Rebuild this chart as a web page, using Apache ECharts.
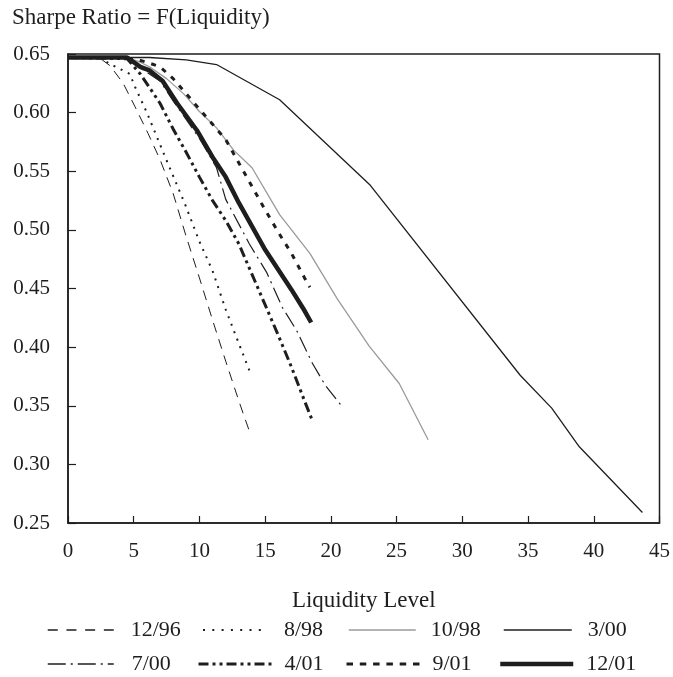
<!DOCTYPE html>
<html>
<head>
<meta charset="utf-8">
<script src="https://cdn.jsdelivr.net/npm/echarts@6/dist/echarts.min.js"></script>
<style>
  html, body { margin: 0; padding: 0; background: #fff; }
  #chart { width: 673px; height: 677px; }
</style>
</head>
<body>
<div id="chart"></div>
<script>
// Liquidity level (x) and Sharpe ratio (y) for each estimation date
const liq1296 = [0, 2, 2.6, 3.2, 4.2, 5.1, 6.1, 7, 8, 9, 10, 11, 12, 13, 13.9];
const sr1296  = [0.647, 0.647, 0.645, 0.640, 0.625, 0.605, 0.582, 0.560, 0.531, 0.494, 0.459, 0.423, 0.388, 0.354, 0.325];

const liq0898 = [0, 2.5, 3.1, 4, 4.7, 5.1, 6, 7.4, 8.9, 10, 11, 12, 13, 13.8];
const sr0898  = [0.647, 0.647, 0.642, 0.637, 0.633, 0.622, 0.600, 0.562, 0.522, 0.490, 0.465, 0.432, 0.403, 0.380];

const liq1098 = [0, 4.5, 5.5, 6.2, 7.5, 8.8, 10, 11.3, 12.6, 14, 16.1, 18.4, 20.5, 22.9, 25.2, 27.4];
const sr1098  = [0.647, 0.647, 0.643, 0.639, 0.629, 0.616, 0.601, 0.587, 0.568, 0.553, 0.513, 0.480, 0.441, 0.401, 0.369, 0.321];

const liq0300 = [0, 6.2, 9, 11.3, 16.1, 23, 34.4, 36.8, 38.9, 43.7];
const sr0300  = [0.647, 0.647, 0.645, 0.641, 0.611, 0.538, 0.376, 0.348, 0.315, 0.259];

const liq0700 = [0, 4.5, 5.5, 7, 8, 9, 10, 11.3, 12, 13.8, 15.1, 16.3, 17.4, 18.6, 19.6, 20.8];
const sr0700  = [0.647, 0.646, 0.638, 0.627, 0.610, 0.594, 0.578, 0.553, 0.526, 0.488, 0.464, 0.434, 0.414, 0.386, 0.367, 0.350];

const liq0401 = [0, 4.5, 5.5, 7, 8, 9, 10, 11, 12, 13, 14, 15, 16, 17, 18, 18.6];
const sr0401  = [0.647, 0.646, 0.633, 0.608, 0.586, 0.566, 0.545, 0.525, 0.508, 0.488, 0.462, 0.436, 0.410, 0.383, 0.354, 0.337];

const liq0901 = [0, 4, 5, 6, 7, 8, 9, 10, 11, 12, 13, 14, 15, 16, 17, 18, 18.4];
const sr0901  = [0.647, 0.647, 0.646, 0.643, 0.639, 0.629, 0.616, 0.603, 0.590, 0.577, 0.557, 0.537, 0.517, 0.498, 0.480, 0.459, 0.451];

const liq1201 = [0, 4.5, 5.5, 6.2, 7.2, 8.3, 9.8, 11, 12, 13, 14, 15, 16, 17, 18, 18.5];
const sr1201  = [0.647, 0.647, 0.639, 0.636, 0.627, 0.608, 0.585, 0.562, 0.545, 0.523, 0.503, 0.483, 0.466, 0.449, 0.431, 0.421];

const seriesNames = ['12/96', '8/98', '10/98', '3/00', '7/00', '4/01', '9/01', '12/01'];
const xTicks = [0, 5, 10, 15, 20, 25, 30, 35, 40, 45];
const yTicks = [0.25, 0.30, 0.35, 0.40, 0.45, 0.50, 0.55, 0.60, 0.65];

const FONT = '"Liberation Serif", "Times New Roman", serif';
const INK = '#1e1e1e';

function pairs(xs, ys) { return xs.map((x, i) => [x, ys[i]]); }

// line look per series: colour, width, dash pattern
const looks = {
  '12/96': { color: INK, width: 1, type: [10, 7] },
  '8/98':  { color: INK, width: 2, type: [2, 6] },
  '10/98': { color: '#9a9a9a', width: 1.3, type: 'solid' },
  '3/00':  { color: INK, width: 1.3, type: 'solid' },
  '7/00':  { color: INK, width: 1.2, type: [16, 5, 2, 5] },
  '4/01':  { color: INK, width: 3, type: [10, 4, 3, 4, 3, 4] },
  '9/01':  { color: INK, width: 3, type: [5, 7] },
  '12/01': { color: INK, width: 4.5, type: 'solid' }
};

const seriesData = {
  '12/96': pairs(liq1296, sr1296),
  '8/98':  pairs(liq0898, sr0898),
  '10/98': pairs(liq1098, sr1098),
  '3/00':  pairs(liq0300, sr0300),
  '7/00':  pairs(liq0700, sr0700),
  '4/01':  pairs(liq0401, sr0401),
  '9/01':  pairs(liq0901, sr0901),
  '12/01': pairs(liq1201, sr1201)
};

const series = seriesNames.map(name => ({
  name: name,
  type: 'line',
  data: seriesData[name],
  symbol: 'none',
  showSymbol: false,
  animation: false,
  lineStyle: { color: looks[name].color, width: looks[name].width, type: looks[name].type, cap: 'butt' },
  itemStyle: { color: looks[name].color }
}));

// one legend block per entry, laid out in a 4 x 2 table
const legendSlots = [
  { name: '12/96', left: 47,  top: 619, w: 66, pad: 12, lw: 1.5, dash: [10, 8.7] },
  { name: '8/98',  left: 202, top: 619, w: 58, pad: 18, lw: 2,   dash: [2, 7.3] },
  { name: '10/98', left: 348, top: 619, w: 67, pad: 10, lw: 1.5, dash: 'solid' },
  { name: '3/00',  left: 503, top: 619, w: 68, pad: 11, lw: 1.5, dash: 'solid' },
  { name: '7/00',  left: 47,  top: 653, w: 66, pad: 13, lw: 1.5, dash: [18, 5, 2, 5] },
  { name: '4/01',  left: 197, top: 653, w: 73, pad: 8,  lw: 3,   dash: [10, 4, 3, 4, 3, 4] },
  { name: '9/01',  left: 345, top: 653, w: 73, pad: 8,  lw: 3,   dash: [6.5, 6.8] },
  { name: '12/01', left: 498, top: 653, w: 73, pad: 8,  lw: 4.5, dash: 'solid' }
];

const legends = legendSlots.map(s => ({
  data: [s.name],
  left: s.left,
  top: s.top,
  padding: 0,
  itemWidth: s.w,
  itemHeight: 12,
  selectedMode: false,
  itemStyle: { opacity: 0 },
  lineStyle: { width: s.lw, type: s.dash, color: looks[s.name].color, cap: 'butt', opacity: 1 },
  textStyle: { fontFamily: FONT, fontSize: 22, color: INK, padding: [0, 0, 0, s.pad] }
}));

const option = {
  backgroundColor: '#ffffff',
  animation: false,
  title: {
    text: 'Sharpe Ratio = F(Liquidity)',
    left: 12,
    top: 6,
    padding: 0,
    textStyle: { fontFamily: FONT, fontSize: 23, fontWeight: 'normal', color: INK }
  },
  legend: legends,
  grid: {
    left: 68, right: 9, top: 54, bottom: 154,
    show: true, borderColor: INK, borderWidth: 1.5, backgroundColor: '#fff'
  },
  xAxis: {
    type: 'value',
    min: xTicks[0],
    max: xTicks[xTicks.length - 1],
    interval: 5,
    name: 'Liquidity Level',
    nameLocation: 'middle',
    nameGap: 66,
    nameTextStyle: { fontFamily: FONT, fontSize: 23, color: INK },
    axisLine: { show: true, lineStyle: { color: INK, width: 1.5 } },
    axisTick: { show: true, inside: true, length: 7, lineStyle: { color: INK, width: 1.2 } },
    axisLabel: { fontFamily: FONT, fontSize: 21, color: INK, margin: 18 },
    splitLine: { show: false }
  },
  yAxis: {
    type: 'value',
    min: yTicks[0],
    max: yTicks[yTicks.length - 1],
    interval: 0.05,
    axisLine: { show: true, lineStyle: { color: INK, width: 1.5 } },
    axisTick: { show: true, inside: true, length: 8, lineStyle: { color: INK, width: 1.2 } },
    axisLabel: {
      fontFamily: FONT, fontSize: 21, color: INK, margin: 18,
      formatter: v => v.toFixed(2)
    },
    splitLine: { show: false }
  },
  series: series
};

const chart = echarts.init(document.getElementById('chart'), null, { renderer: 'canvas' });
chart.setOption(option);
</script>
</body>
</html>
